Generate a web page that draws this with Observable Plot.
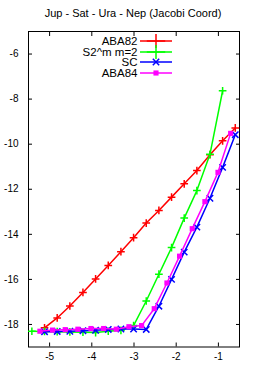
<!DOCTYPE html>
<html>
<head>
<meta charset="utf-8">
<script src="https://cdn.jsdelivr.net/npm/d3@7"></script>
<script src="https://cdn.jsdelivr.net/npm/@observablehq/plot@0.6"></script>
<style>
  body { margin: 0; background: #fff; font-family: "Liberation Sans", Arial, sans-serif; }
  #wrap { position: relative; width: 266px; height: 369px; overflow: hidden; }
  #title { height: 24px; box-sizing: border-box; padding-top: 7px; line-height: 13px; text-align: center; font-size: 11px; color: #000; white-space: nowrap; }
  #legend { position: absolute; left: 0; top: 0; width: 266px; height: 100px; pointer-events: none; }
  .row { position: absolute; left: 0; width: 176px; height: 10px; }
  .row span { position: absolute; right: 38.5px; top: 0px; font-size: 11.5px; line-height: 10px; white-space: nowrap; color: #000; }
  .row svg { position: absolute; left: 139px; top: -2px; }
</style>
</head>
<body>
<div id="wrap">
  <div id="title">Jup - Sat - Ura - Nep (Jacobi Coord)</div>
  <div id="chart"></div>
  <div id="legend"></div>
</div>
<script>
// Series names
const seriesNames = ["ABA82", "S2^m m=2", "SC", "ABA84"];

// x, y values
const xABA82 = [-5.12, -4.82, -4.52, -4.21, -3.91, -3.61, -3.31, -3.01, -2.71, -2.41, -2.11, -1.81, -1.51, -1.20, -0.90, -0.60];
const yABA82 = [-18.15, -17.71, -17.18, -16.58, -15.98, -15.38, -14.77, -14.15, -13.50, -12.94, -12.35, -11.76, -11.17, -10.47, -9.85, -9.28];

const xS2m = [-5.42, -5.12, -4.82, -4.52, -4.21, -3.91, -3.61, -3.31, -3.01, -2.71, -2.41, -2.11, -1.81, -1.51, -1.20, -0.90];
const yS2m = [-18.30, -18.31, -18.32, -18.33, -18.34, -18.36, -18.30, -18.26, -18.05, -16.96, -15.77, -14.59, -13.28, -12.06, -10.45, -7.63];

const xSC = [-5.12, -4.82, -4.52, -4.21, -3.91, -3.61, -3.31, -3.01, -2.71, -2.41, -2.11, -1.81, -1.51, -1.20, -0.90, -0.60];
const ySC = [-18.32, -18.31, -18.30, -18.28, -18.26, -18.22, -18.20, -18.20, -18.22, -17.19, -16.00, -14.79, -13.68, -12.40, -11.03, -9.58];

const xABA84 = [-5.23, -4.93, -4.63, -4.33, -4.02, -3.72, -3.42, -3.12, -2.82, -2.52, -2.22, -1.92, -1.62, -1.32, -1.01, -0.71];
const yABA84 = [-18.30, -18.25, -18.23, -18.21, -18.18, -18.18, -18.21, -18.10, -18.05, -17.30, -16.16, -14.97, -13.75, -12.55, -11.25, -9.52];

// tick values
const xTicks = [-5, -4, -3, -2, -1];
const yTicks = [-18, -16, -14, -12, -10, -8, -6];

// styles
const styles = [
  {color: "#ff0000", symbol: "plus",   r: 2.6, lr: 6,   fill: "none"},
  {color: "#00ff00", symbol: "plus",   r: 2.6, lr: 6,   fill: "none"},
  {color: "#0000ff", symbol: "times",  r: 3,   lr: 3,   fill: "none"},
  {color: "#ff00ff", symbol: "square", r: 2.9, lr: 2.9, fill: "#ff00ff"}
];
const xs = [xABA82, xS2m, xSC, xABA84];
const ys = [yABA82, yS2m, ySC, yABA84];

const series = seriesNames.map((name, i) => ({
  name, ...styles[i],
  rows: xs[i].map((x, j) => ({series: name, x, y: ys[i][j]}))
}));

const marks = [
  Plot.frame({stroke: "#000", strokeWidth: 1}),
  Plot.axisX(xTicks, {anchor: "bottom", tickSize: -4, tickPadding: 10, tickFormat: d => String(d), label: null}),
  Plot.axisX(xTicks, {anchor: "top", tickSize: -4, fill: "none", label: null}),
  Plot.axisY(yTicks, {anchor: "left", tickSize: -4, tickPadding: 14, tickFormat: d => String(d), label: null}),
  Plot.axisY(yTicks, {anchor: "right", tickSize: -4, fill: "none", label: null})
];
for (const s of series) {
  marks.push(Plot.line(s.rows, {x: "x", y: "y", stroke: s.color, strokeWidth: 1.5}));
  marks.push(Plot.dot(s.rows, {x: "x", y: "y", symbol: s.symbol, r: s.r,
    stroke: s.fill === "none" ? s.color : "none", fill: s.fill, strokeWidth: 1.5}));
}

const chart = Plot.plot({
  width: 266,
  height: 345,
  marginTop: 7,
  marginBottom: 22.5,
  marginLeft: 28,
  marginRight: 27,
  x: {domain: [-5.5, -0.5]},
  y: {domain: [-19, -5]},
  style: {fontFamily: "'Liberation Sans', Arial, sans-serif", fontSize: "10px", color: "#000", background: "#fff", overflow: "visible"},
  marks
});
document.getElementById("chart").appendChild(chart);

// legend (inside the plot area, top-right-ish)
const legend = document.getElementById("legend");
const rowTops = [36, 46.7, 57.4, 68.1];
const symMap = {plus: d3.symbolPlus, times: d3.symbolTimes, square: d3.symbolSquare};
series.forEach((s, i) => {
  const row = document.createElement("div");
  row.className = "row";
  row.style.top = rowTops[i] + "px";
  const span = document.createElement("span");
  span.textContent = s.name;
  row.appendChild(span);
  const svg = d3.create("svg").attr("width", 36).attr("height", 14);
  svg.append("line").attr("x1", 1).attr("x2", 33).attr("y1", 7).attr("y2", 7)
    .attr("stroke", s.color).attr("stroke-width", 1.5);
  svg.append("path")
    .attr("transform", "translate(17,7)")
    .attr("d", d3.symbol(symMap[s.symbol], Math.PI * s.lr * s.lr)())
    .attr("fill", s.fill)
    .attr("stroke", s.fill === "none" ? s.color : "none")
    .attr("stroke-width", 1.5);
  row.appendChild(svg.node());
  legend.appendChild(row);
});
</script>
</body>
</html>
